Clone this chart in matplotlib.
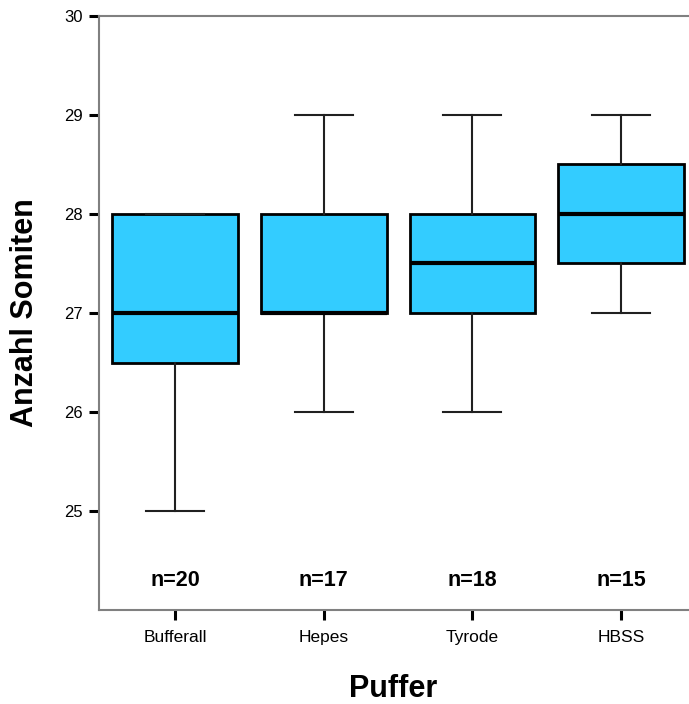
import matplotlib.pyplot as plt

plt.rcParams['font.family'] = ['Liberation Sans', 'DejaVu Sans']

# Daten
gruppen = ["Bufferall", "Hepes", "Tyrode", "HBSS"]
whisk_lo = [25, 26, 26, 27]
q1       = [26.5, 27, 27, 27.5]
median   = [27, 27, 27.5, 28]
q3       = [28, 28, 28, 28.5]
whisk_hi = [28, 29, 29, 29]
n_werte  = [20, 17, 18, 15]

stats = [dict(label=g, whislo=lo, q1=a, med=m, q3=b, whishi=hi, fliers=[])
         for g, lo, a, m, b, hi in zip(gruppen, whisk_lo, q1, median, q3, whisk_hi)]

fig = plt.figure(figsize=(6.89, 7.04), dpi=100)
ax = fig.add_axes([0.1437, 0.1335, 0.868, 0.8438])

pos = list(range(len(gruppen)))
ax.bxp(stats, positions=pos, widths=0.845, patch_artist=True,
       showfliers=False,
       boxprops=dict(facecolor="#33CCFF", edgecolor="black", linewidth=2),
       medianprops=dict(color="black", linewidth=3),
       whiskerprops=dict(color="#202020", linewidth=1.5),
       capprops=dict(color="#202020", linewidth=1.5),
       capwidths=0.39)

for p, n in zip(pos, n_werte):
    ax.text(p, 24.3, f"n={n}", ha="center", va="center",
            fontsize=15.5, fontweight="bold")

ax.set_xlim(-0.51, 3.51)
ax.set_ylim(24, 30)
ax.set_yticks([25, 26, 27, 28, 29, 30])
ax.set_xticks(pos)
ax.set_xticklabels(gruppen)

for s in ax.spines.values():
    s.set_color("#808080")
    s.set_linewidth(1.5)
ax.tick_params(axis="both", direction="out", length=7.5, width=2.2,
               color="black", labelsize=12)
ax.tick_params(axis="x", pad=7, labelsize=12.5)
ax.tick_params(axis="y", pad=4)

ax.set_ylabel("Anzahl Somiten", fontsize=22, fontweight="bold")
ax.set_xlabel("Puffer", fontsize=22, fontweight="bold")
ax.yaxis.set_label_coords(-0.124, 0.5)
ax.xaxis.set_label_coords(0.4916, -0.133)
ax.yaxis.label.set_va("center")
ax.xaxis.label.set_va("center")

fig.savefig("out.png", dpi=100)
